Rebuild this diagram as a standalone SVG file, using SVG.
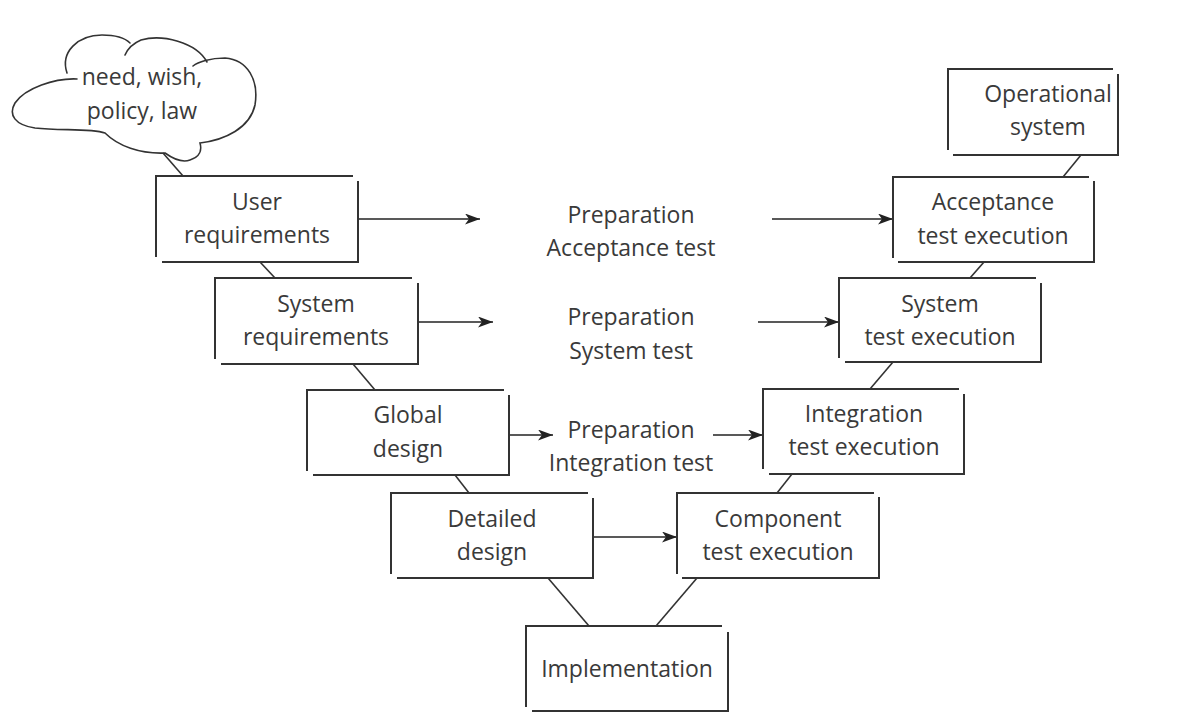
<svg xmlns="http://www.w3.org/2000/svg" width="1179" height="721" viewBox="0 0 1179 721">
  <defs>
    <style>
      .box { fill: none; stroke: #333; stroke-width: 2; stroke-linecap: square; }
      .link { fill: none; stroke: #333; stroke-width: 1.6; }
      .arrow { fill: none; stroke: #222; stroke-width: 1.5; marker-end: url(#ah); }
      .cloud { fill: none; stroke: #333; stroke-width: 1.6; stroke-linecap: round; }
      text { font-family: "Open Sans", "Noto Sans", sans-serif; font-size: 23px; fill: #3a3a3a; text-anchor: middle; }
    </style>
    <marker id="ah" viewBox="0 0 15 11" refX="15" refY="5.5" markerWidth="15" markerHeight="11" markerUnits="userSpaceOnUse" orient="auto">
      <path d="M0,0 L15,5.5 L0,11 L4,5.5 Z" fill="#222"/>
    </marker>
  </defs>
  <rect width="1179" height="721" fill="#fff"/>

  <g id="connectors">
    <line class="link" x1="163" y1="153" x2="183" y2="176"/>
    <line class="link" x1="260" y1="262" x2="275" y2="278"/>
    <line class="link" x1="353" y1="364" x2="375" y2="390"/>
    <line class="link" x1="455" y1="475" x2="469" y2="493"/>
    <line class="link" x1="548" y1="578" x2="589" y2="626"/>
    <line class="link" x1="656" y1="626" x2="697" y2="578"/>
    <line class="link" x1="777" y1="493" x2="792" y2="474"/>
    <line class="link" x1="870" y1="389" x2="893" y2="362"/>
    <line class="link" x1="970" y1="278" x2="984" y2="262"/>
    <line class="link" x1="1063" y1="177" x2="1081" y2="155"/>
    <line class="arrow" x1="358" y1="219" x2="480" y2="219"/>
    <line class="arrow" x1="772" y1="219" x2="893" y2="219"/>
    <line class="arrow" x1="418" y1="322" x2="493" y2="322"/>
    <line class="arrow" x1="758" y1="322" x2="839" y2="322"/>
    <line class="arrow" x1="509" y1="435" x2="553" y2="435"/>
    <line class="arrow" x1="713" y1="435" x2="763" y2="435"/>
    <line class="arrow" x1="593" y1="537" x2="677" y2="537"/>
  </g>

  <g id="cloud">
    <path class="cloud" d="M77,79 C55,78 25,88 15,103 C8,115 15,125 35,128 C60,131 90,128 105,133 C118,146 140,154 165,153 C172,158 182,163 190,160 C200,157 202,150 200,143 C225,140 250,128 255,105 C259,80 248,60 225,58 C210,58 198,62 193,66"/>
    <path class="cloud" d="M67,73 C60,52 78,35 102,35 C115,35 125,38 130,43 M125,55 C128,48 134,43 141,40 C162,34 196,42 207,62"/>
    <text x="142" y="85">need, wish,</text>
    <text x="142" y="119">policy, law</text>
  </g>

  <g id="user-requirements">
    <path class="box" d="M156,256 L156,176 L352,176 M358,182 L358,262 L163,262"/>
    <text x="257" y="210">User</text>
    <text x="257" y="243">requirements</text>
  </g>
  <g id="system-requirements">
    <path class="box" d="M215,358 L215,278 L411,278 M418,284 L418,364 L222,364"/>
    <text x="316" y="312">System</text>
    <text x="316" y="345">requirements</text>
  </g>
  <g id="global-design">
    <path class="box" d="M307,470 L307,390 L503,390 M509,396 L509,475 L314,475"/>
    <text x="408" y="423">Global</text>
    <text x="408" y="457">design</text>
  </g>
  <g id="detailed-design">
    <path class="box" d="M391,573 L391,493 L587,493 M593,499 L593,578 L398,578"/>
    <text x="492" y="527">Detailed</text>
    <text x="492" y="560">design</text>
  </g>
  <g id="implementation">
    <path class="box" d="M526,706 L526,626 L721,626 M728,633 L728,711 L533,711"/>
    <text x="627" y="677">Implementation</text>
  </g>
  <g id="component-test">
    <path class="box" d="M677,573 L677,493 L873,493 M879,498 L879,578 L683,578"/>
    <text x="778" y="527">Component</text>
    <text x="778" y="560">test execution</text>
  </g>
  <g id="integration-test">
    <path class="box" d="M763,468 L763,389 L958,389 M964,395 L964,474 L770,474"/>
    <text x="864" y="422">Integration</text>
    <text x="864" y="455">test execution</text>
  </g>
  <g id="system-test">
    <path class="box" d="M839,357 L839,278 L1035,278 M1041,284 L1041,362 L846,362"/>
    <text x="940" y="312">System</text>
    <text x="940" y="345">test execution</text>
  </g>
  <g id="acceptance-test">
    <path class="box" d="M893,257 L893,177 L1088,177 M1094,182 L1094,262 L899,262"/>
    <text x="993" y="210">Acceptance</text>
    <text x="993" y="244">test execution</text>
  </g>
  <g id="operational-system">
    <path class="box" d="M948,149 L948,69 L1112,69 M1118,75 L1118,155 L954,155"/>
    <text x="1048" y="102">Operational</text>
    <text x="1048" y="135">system</text>
  </g>

  <g id="preparation-labels">
    <text x="631" y="223">Preparation</text>
    <text x="631" y="256">Acceptance test</text>
    <text x="631" y="325">Preparation</text>
    <text x="631" y="359">System test</text>
    <text x="631" y="438">Preparation</text>
    <text x="631" y="471">Integration test</text>
  </g>
</svg>
